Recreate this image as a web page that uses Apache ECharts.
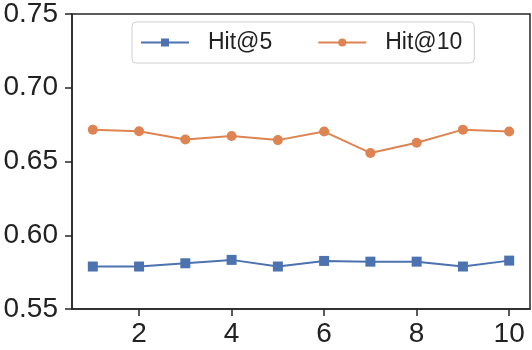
<!DOCTYPE html>
<html lang="en">
<head>
    <meta charset="UTF-8">
    <title>Hit@k</title>
    <script src="https://cdn.jsdelivr.net/npm/echarts@6/dist/echarts.min.js"></script>
    <style>
        html, body { margin: 0; padding: 0; background: #fff; }
    </style>
</head>
<body>
<div id="main" style="width: 532px;height:350px;"></div>
<script>
    // data
    let xValues = [1, 2, 3, 4, 5, 6, 7, 8, 9, 10];
    let hit5 = [0.5788, 0.5788, 0.5810, 0.5833, 0.5788, 0.5826, 0.5821, 0.5821, 0.5788, 0.5828];
    let hit10 = [0.6716, 0.6705, 0.6649, 0.6673, 0.6645, 0.6703, 0.6558, 0.6627, 0.6716, 0.6703];
    let xTicks = [2, 4, 6, 8, 10];
    let yTicks = [0.55, 0.60, 0.65, 0.70, 0.75];
    let seriesNames = ['Hit@5', 'Hit@10'];

    function pairs(ys) {
        let out = [];
        for (let i = 0; i < ys.length; i++) {
            out.push([xValues[i], ys[i]]);
        }
        return out;
    }

    let axisColor = '#262626';
    let labelFont = {fontFamily: 'Liberation Sans', fontSize: 28, color: '#222'};

    let echart = echarts.init(document.getElementById('main'), null, {renderer: 'canvas'});
    let option = {
        animation: false,
        grid: {
            left: 72, right: 2, top: 10, bottom: 41,
            show: true, borderColor: axisColor, borderWidth: 1.5,
            containLabel: false
        },
        legend: {
            data: seriesNames,
            left: 132, top: 22,
            padding: [9, 12, 9, 8],
            itemWidth: 48, itemHeight: 10,
            itemGap: 45,
            borderColor: '#d0d0d0', borderWidth: 1, borderRadius: 4,
            textStyle: {fontFamily: 'Liberation Sans', fontSize: 23, color: '#222', padding: [0, 0, 0, 14]}
        },
        xAxis: {
            type: 'value',
            min: 0.55, max: 10.45,
            splitLine: {show: false},
            axisLine: {show: true, lineStyle: {color: axisColor, width: 1.5}},
            axisTick: {show: true, customValues: xTicks, length: 7, lineStyle: {color: axisColor, width: 1.5}},
            axisLabel: Object.assign({customValues: xTicks, margin: 11}, labelFont)
        },
        yAxis: {
            type: 'value',
            min: 0.55, max: 0.75,
            splitLine: {show: false},
            axisLine: {show: true, lineStyle: {color: axisColor, width: 1.5}},
            axisTick: {show: true, customValues: yTicks, length: 7, lineStyle: {color: axisColor, width: 1.5}},
            axisLabel: Object.assign({
                customValues: yTicks, margin: 14,
                formatter: function (v) { return v.toFixed(2); }
            }, labelFont)
        },
        series: [
            {
                name: seriesNames[0],
                type: 'line',
                data: pairs(hit5),
                symbol: 'rect', symbolSize: 10,
                itemStyle: {color: '#4c72b0'},
                lineStyle: {color: '#4c72b0', width: 2}
            },
            {
                name: seriesNames[1],
                type: 'line',
                data: pairs(hit10),
                symbol: 'circle', symbolSize: 10,
                itemStyle: {color: '#dd8452'},
                lineStyle: {color: '#dd8452', width: 2}
            }
        ]
    };
    echart.setOption(option);
</script>
</body>
</html>
